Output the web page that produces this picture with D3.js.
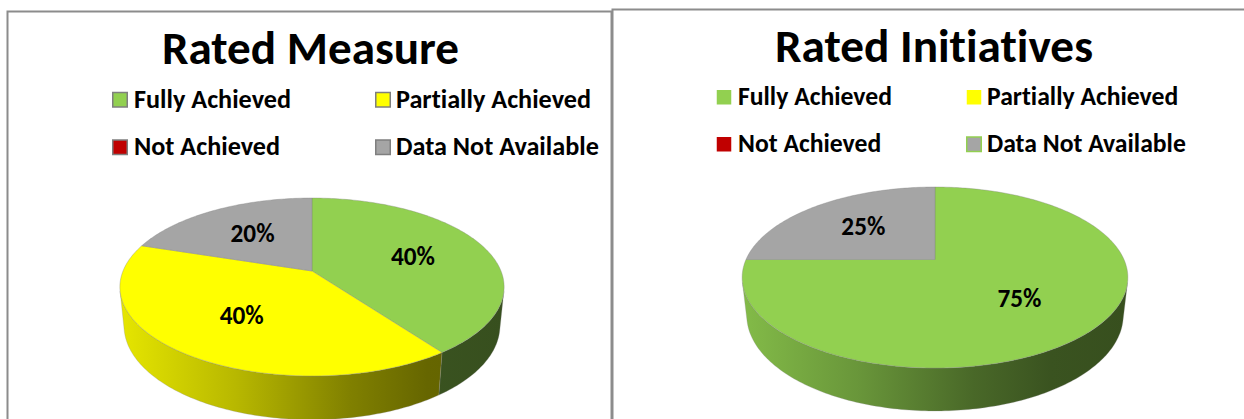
<!DOCTYPE html>
<html>
<head>
<meta charset="utf-8">
<script src="https://cdn.jsdelivr.net/npm/d3@7"></script>
<style>
  body { margin: 0; background: #fff; }
  svg { display: block; }
  text {
    font-family: Carlito, Calibri, Lato, "Noto Sans", sans-serif;
    font-weight: bold;
    fill: #000;
    font-variant-ligatures: none;
    font-feature-settings: "liga" 0, "dlig" 0;
  }
</style>
</head>
<body>
<div id="chart"></div>
<script>
// data
const categories = ["Fully Achieved", "Partially Achieved", "Not Achieved", "Data Not Available"];
const measureValues = [40, 40, 0, 20];
const initiativeValues = [75, 0, 0, 25];
const chartTitles = ["Rated Measure", "Rated Initiatives"];
const sliceColors = ["#92d050", "#ffff00", "#c00000", "#a5a5a5"];

const width = 1244, height = 419;

const svg = d3.select("#chart").append("svg")
  .attr("width", width)
  .attr("height", height);

const defs = svg.append("defs");

// panel frames
svg.append("rect")
  .attr("x", 7.5).attr("y", 11.5)
  .attr("width", 604).attr("height", 440)
  .attr("fill", "#fff").attr("stroke", "#8c8c8c").attr("stroke-width", 2);
svg.append("rect")
  .attr("x", 612.5).attr("y", 9.5)
  .attr("width", 660).attr("height", 440)
  .attr("fill", "none").attr("stroke", "#8c8c8c").attr("stroke-width", 2);

const panels = [
  {
    id: "m", title: chartTitles[0], values: measureValues,
    titleX: 310.5, titleY: 64, titleW: 297,
    legendX: [112, 375], legendY: [107.5, 155], legendW: 157,
    swatchStroke: ["#7f7f7f", "#7f7f7f", "#7f7f7f", "#7f7f7f"],
    pie: { cx: 312, cy: 271, halfWidth: 189, tilt: Math.asin(0.4556), dist: 4.955, depth: 0.232 },
  },
  {
    id: "i", title: chartTitles[1], values: initiativeValues,
    titleX: 934, titleY: 62, titleW: 318,
    legendX: [716, 966], legendY: [105, 152], legendW: 154,
    swatchStroke: ["none", "none", "none", "#92d050"],
    pie: { cx: 935, cy: 259.5, halfWidth: 189, tilt: Math.asin(0.46), dist: 4.461, depth: 0.226 },
  },
];

function fitWidth(sel, target) {
  const w = sel.node().getComputedTextLength();
  const fs = parseFloat(sel.attr("font-size"));
  sel.attr("font-size", (fs * target / w).toFixed(2));
  return fs * target / w;
}

// perspective projection of a point on the pie: angle clockwise from 12 o'clock,
// radius fraction, height (negative = below the top face)
function projector(p) {
  const s = Math.sin(p.tilt), c = Math.cos(p.tilt);
  const F = p.halfWidth * p.dist;
  return (a, r, z) => {
    const X = r * Math.sin(a), Y = r * Math.cos(a);
    const d = p.dist + Y * c - z * s;
    const up = Y * s + z * c;
    return [p.cx + F * X / d, p.cy - F * up / d];
  };
}

function arcPoints(proj, a0, a1, z) {
  const n = Math.max(2, Math.ceil(Math.abs(a1 - a0) / (Math.PI / 180)));
  return d3.range(n + 1).map((i) => proj(a0 + (a1 - a0) * i / n, 1, z));
}

const pie = d3.pie().sort(null).value((d) => d);

panels.forEach((panel) => {
  const g = svg.append("g");
  const proj = projector(panel.pie);
  const slices = pie(panel.values);

  // title
  const title = g.append("text")
    .attr("x", panel.titleX).attr("y", panel.titleY)
    .attr("text-anchor", "middle")
    .attr("font-size", 46)
    .text(panel.title);
  fitWidth(title, panel.titleW);

  // legend
  const probe = g.append("text").attr("font-size", 26).text(categories[0]);
  const legendSize = fitWidth(probe, panel.legendW);
  probe.remove();

  const items = g.selectAll(".legend-item")
    .data(categories)
    .enter()
    .append("g")
    .attr("class", "legend-item")
    .attr("transform", (d, i) =>
      `translate(${panel.legendX[i % 2]},${panel.legendY[Math.floor(i / 2)]})`);

  items.append("rect")
    .attr("x", 0.75).attr("y", -15)
    .attr("width", 14.5).attr("height", 14.5)
    .attr("fill", (d, i) => sliceColors[i])
    .attr("stroke", (d, i) => panel.swatchStroke[i])
    .attr("stroke-width", 1.5);

  items.append("text")
    .attr("x", (d, i) => i % 2 === 0 ? 22 : 21)
    .attr("y", 0)
    .attr("font-size", legendSize.toFixed(2))
    .text((d) => d);

  // side walls: visible between the two silhouette angles
  const c = Math.cos(panel.pie.tilt);
  const silA = Math.acos(-1 / (panel.pie.dist * c));
  const silB = 2 * Math.PI - silA;
  const xL = proj(silB, 1, 0)[0], xR = proj(silA, 1, 0)[0];
  const shade = [[0, 0.9], [0.3, 0.72], [0.6, 0.5], [0.8, 0.4], [1, 0.38]];

  slices.forEach((s, i) => {
    if (s.value === 0) return;
    const grad = defs.append("linearGradient")
      .attr("id", `side-${panel.id}-${i}`)
      .attr("gradientUnits", "userSpaceOnUse")
      .attr("x1", xL).attr("x2", xR).attr("y1", 0).attr("y2", 0);
    shade.forEach(([t, f]) => {
      const col = d3.rgb(sliceColors[i]);
      grad.append("stop")
        .attr("offset", t)
        .attr("stop-color", d3.rgb(col.r * f, col.g * f, col.b * f).formatHex());
    });
  });

  const wallG = g.append("g");
  slices.forEach((s, i) => {
    if (s.value === 0) return;
    const a0 = Math.max(s.startAngle, silA), a1 = Math.min(s.endAngle, silB);
    if (a1 <= a0) return;
    const top = arcPoints(proj, a0, a1, 0);
    const bottom = arcPoints(proj, a1, a0, -panel.pie.depth);
    wallG.append("path")
      .attr("d", d3.line()(top.concat(bottom)) + "Z")
      .attr("fill", `url(#side-${panel.id}-${i})`)
      .attr("stroke", "rgba(140,140,140,0.45)")
      .attr("stroke-width", 0.6);
  });

  // top face
  const topG = g.append("g");
  slices.forEach((s, i) => {
    if (s.value === 0) return;
    const pts = [proj(0, 0, 0)].concat(arcPoints(proj, s.startAngle, s.endAngle, 0));
    topG.append("path")
      .attr("d", d3.line()(pts) + "Z")
      .attr("fill", sliceColors[i])
      .attr("stroke", "rgba(130,130,130,0.5)")
      .attr("stroke-width", 0.7)
      .attr("stroke-linejoin", "round");
  });

  // data labels
  const total = d3.sum(panel.values);
  const labels = g.selectAll(".pie-label")
    .data(slices.filter((s) => s.value > 0))
    .enter()
    .append("text")
    .attr("class", "pie-label")
    .attr("text-anchor", "middle")
    .attr("dominant-baseline", "central")
    .attr("font-size", 24)
    .attr("transform", (s) => {
      const p = proj((s.startAngle + s.endAngle) / 2, 0.58, 0);
      return `translate(${p[0]},${p[1]})`;
    })
    .text((s) => `${Math.round(s.value / total * 100)}%`);
  const lblSize = fitWidth(d3.select(labels.node()), 44);
  labels.attr("font-size", lblSize.toFixed(2));
});
</script>
</body>
</html>
